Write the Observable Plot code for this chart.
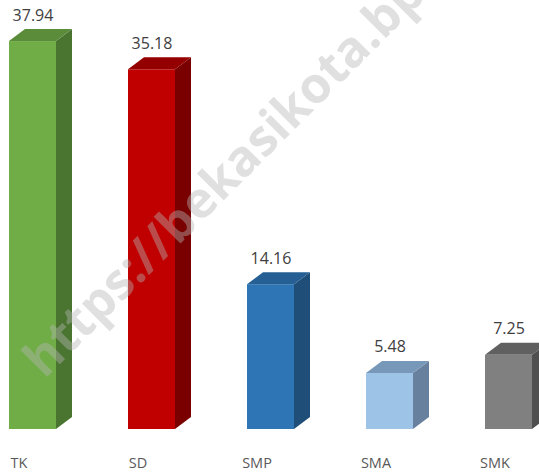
<!DOCTYPE html>
<html>
<head>
<meta charset="utf-8">
<script src="https://cdn.jsdelivr.net/npm/d3@7"></script>
<script src="https://cdn.jsdelivr.net/npm/@observablehq/plot@0.6"></script>
<style>
  html, body { margin: 0; padding: 0; background: #fff; }
  #chart svg { display: block; }
</style>
</head>
<body>
<div id="chart"></div>
<script>
// ---- data ----
const categories = ["TK", "SD", "SMP", "SMA", "SMK"];
const values = [37.94, 35.18, 14.16, 5.48, 7.25];
const watermark = "https://bekasikota.bps.go.id";

// ---- styles ----
const frontColors = ["#70AD47", "#C00000", "#2E75B6", "#9DC3E6", "#808080"];
const sideColors  = ["#4A7530", "#7A0000", "#1F4E79", "#66809E", "#4F4F4F"];
const topColors   = ["#5A8C3A", "#940000", "#265F94", "#7898BA", "#606060"];
const DEPTH_X = 16, DEPTH_Y = 12;

const data = categories.map((c, i) => ({cat: c, value: values[i], i}));

// side and top faces of the 3D bars, drawn through Plot's scales
function faces(index, scales) {
  const x = scales.x, y = scales.y;
  const bw = typeof x.bandwidth === "function" ? x.bandwidth() : 47;
  const g = d3.create("svg:g");
  for (const d of data) {
    const xl = x(d.cat), xr = xl + bw, y0 = y(0), yv = y(d.value);
    g.append("path")
      .attr("d", `M${xr},${y0}L${xr + DEPTH_X},${y0 - DEPTH_Y}L${xr + DEPTH_X},${yv - DEPTH_Y}L${xr},${yv}Z`)
      .attr("fill", sideColors[d.i]);
    g.append("path")
      .attr("d", `M${xl},${yv}L${xl + DEPTH_X},${yv - DEPTH_Y}L${xr + DEPTH_X},${yv - DEPTH_Y}L${xr},${yv}Z`)
      .attr("fill", topColors[d.i]);
  }
  return g.node();
}

const chart = Plot.plot({
  width: 539,
  height: 472,
  marginTop: 20,
  marginBottom: 43,
  marginLeft: 0,
  marginRight: 0,
  x: {domain: categories, range: [8, 532], paddingInner: 0.606, paddingOuter: 0, axis: null},
  y: {domain: [0, 40], axis: null},
  color: {type: "identity"},
  style: {fontFamily: "'Open Sans', 'Liberation Sans', sans-serif", background: "#fff", overflow: "hidden"},
  marks: [
    Plot.barY(data, {x: "cat", y: "value", fill: d => frontColors[d.i]}),
    faces,
    Plot.text(data, {
      x: "cat", y: "value", text: d => d.value.toFixed(2),
      lineAnchor: "bottom", dy: -21, fontSize: 16, fill: "#404040"
    }),
    Plot.text(data, {
      x: "cat", text: "cat", frameAnchor: "bottom",
      lineAnchor: "bottom", dy: 38, dx: -14, fontSize: 14.5, fill: "#595959"
    }),
    Plot.text([watermark], {
      text: d => d, frameAnchor: "bottom-left", rotate: -45,
      textAnchor: "start", lineAnchor: "bottom", dx: 44, dy: -50,
      fontSize: 50, fontWeight: "bold", fill: "#b4b4b4", fillOpacity: 0.42
    })
  ]
});

document.getElementById("chart").appendChild(chart);
</script>
</body>
</html>
